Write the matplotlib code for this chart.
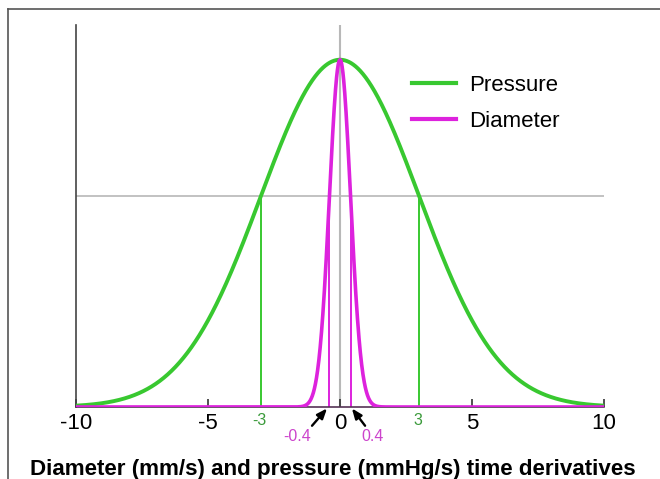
import numpy as np
import matplotlib
matplotlib.use("Agg")
import matplotlib.pyplot as plt
from matplotlib.lines import Line2D

# --- values ---
x_range = [-10, 10]
pressure_peak = 1.0
pressure_sigma = 3.0      # marked by the -3 / 3 lines
diameter_peak = 1.0
diameter_sigma = 0.4      # marked by the -0.4 / 0.4 lines
pressure_marks = [-3, 3]
diameter_marks = [-0.4, 0.4]
xtick_values = [-10, -5, 0, 5, 10]
xtick_labels = ["-10", "-5", "0", "5", "10"]
series_names = ["Pressure", "Diameter"]

GREEN = "#38c830"
MAGENTA = "#dd22dd"
GREEN_TXT = "#3a9a3a"
MAGENTA_TXT = "#cc44cc"

plt.rcParams['font.family'] = ['Liberation Sans', 'DejaVu Sans']

fig = plt.figure(figsize=(6.6, 4.79), dpi=100)
ax = fig.add_axes([76/660, 72/479, 528/660, (407-25)/479])

x = np.linspace(x_range[0], x_range[1], 2001)
pressure = pressure_peak * np.exp(-x**2 / (2 * pressure_sigma**2))
diameter = diameter_peak * np.exp(-x**2 / (2 * diameter_sigma**2))
level = np.exp(-0.5)

ax.set_xlim(x_range)
ax.set_ylim(0, 1.1)

# reference lines
ax.axvline(0, color="#b8b8b8", lw=1.5, zorder=1)
ax.axhline(level * pressure_peak, color="#b8b8b8", lw=1.2, zorder=1)

for m in pressure_marks:
    ax.plot([m, m], [0, pressure_peak * np.exp(-m**2 / (2 * pressure_sigma**2))],
            color=GREEN, lw=1.4, zorder=2)
for m in diameter_marks:
    ax.plot([m, m], [0, diameter_peak * np.exp(-m**2 / (2 * diameter_sigma**2))],
            color=MAGENTA, lw=1.4, zorder=2)

ax.plot(x, pressure, color=GREEN, lw=2.8, zorder=3, solid_capstyle='butt')
ax.plot(x, diameter, color=MAGENTA, lw=2.6, zorder=4, solid_capstyle='butt')

# axes styling
for s in ["top", "right"]:
    ax.spines[s].set_visible(False)
ax.spines["left"].set_color("#444444")
ax.spines["bottom"].set_color("#553355")
ax.spines["left"].set_linewidth(1.2)
ax.spines["bottom"].set_linewidth(1.2)
ax.set_yticks([])
ax.set_xticks(xtick_values)
ax.set_xticklabels(xtick_labels)
ax.tick_params(axis="x", direction="in", length=6, width=1.2, color="#333333",
               labelsize=16, pad=4)

ax.set_xlabel("Diameter (mm/s) and pressure (mmHg/s) time derivatives",
              fontsize=16.1, fontweight="bold")
ax.xaxis.set_label_coords(0.487, -0.163)
ax.xaxis.label.set_va("center")

# small labels
for m in pressure_marks:
    ax.annotate(f"{m:g}", xy=(m - 0.05, -0.038), ha="center", va="center",
                fontsize=11.5, color=GREEN_TXT, annotation_clip=False)
ax.annotate(f"{diameter_marks[0]:g}", xy=(diameter_marks[0], 0),
            xytext=(-1.64, -0.084), ha="center", va="center", fontsize=11.5,
            color=MAGENTA_TXT, annotation_clip=False)
ax.annotate(f"{diameter_marks[1]:g}", xy=(diameter_marks[1], 0),
            xytext=(1.22, -0.084), ha="center", va="center", fontsize=11.5,
            color=MAGENTA_TXT, annotation_clip=False)
arrow_style = dict(arrowstyle="-|>,head_length=0.6,head_width=0.24",
                   color="black", lw=1.7, shrinkA=0, shrinkB=0)
ax.annotate("", xy=(-0.49, -0.004), xytext=(-1.06, -0.054),
            arrowprops=arrow_style, annotation_clip=False)
ax.annotate("", xy=(0.45, -0.004), xytext=(0.95, -0.054),
            arrowprops=arrow_style, annotation_clip=False)

# legend
handles = [Line2D([], [], color=GREEN, lw=3), Line2D([], [], color=MAGENTA, lw=3)]
ax.legend(handles, series_names, loc="upper left", bbox_to_anchor=(0.637, 0.869),
          frameon=False, fontsize=16, handlelength=1.95, handletextpad=0.62,
          labelspacing=0.66, borderpad=0, borderaxespad=0)

# figure frame (top and left edges)
fig.add_artist(Line2D([8/660, 1], [1 - 9/479, 1 - 9/479], color="#555555", lw=1.2))
fig.add_artist(Line2D([8/660, 8/660], [0, 1 - 9/479], color="#555555", lw=1.2))

fig.savefig("out.png", dpi=100)
